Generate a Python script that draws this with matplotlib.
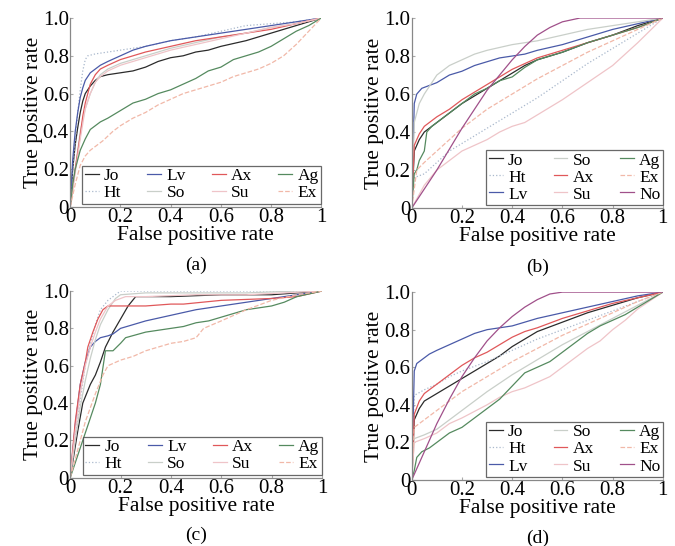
import numpy as np
import matplotlib
matplotlib.use('Agg')
import matplotlib.pyplot as plt

plt.rcParams['font.family'] = 'serif'
plt.rcParams['font.serif'] = ['Liberation Serif', 'DejaVu Serif']

# ---- styles per method ----
names = ['Jo', 'Ht', 'Lv', 'So', 'Ax', 'Su', 'Ag', 'Ex', 'No']
colors = {'Jo': '#2b2b2b', 'Ht': '#a9b8cc', 'Lv': '#4a5aa8', 'So': '#c9cfc9',
          'Ax': '#e0585a', 'Su': '#efc4c8', 'Ag': '#558a5f', 'Ex': '#f1b8a8',
          'No': '#a0508a'}
styles = {'Ht': ':', 'Ex': '--'}

# ---- panel (a) ----
a_Jo = ([0, .01, .02, .03, .04, .05, .06, .08, .1, .12, .15, .2, .25, .3, .35, .4, .45, .5, .55, .6, .7, .8, .9, 1],
        [0, .2, .33, .42, .5, .56, .6, .64, .67, .69, .7, .71, .72, .74, .77, .79, .8, .82, .83, .85, .88, .92, .96, 1])
a_Ht = ([0, .01, .02, .03, .04, .05, .06, .07, .1, .15, .2, .3, .4, .5, .6, .7, .8, .9, 1],
        [0, .2, .35, .5, .62, .72, .78, .8, .81, .82, .83, .85, .88, .9, .93, .96, .97, .98, 1])
a_Lv = ([0, .01, .02, .03, .04, .05, .06, .08, .1, .12, .15, .2, .25, .3, .4, .5, .6, .7, .8, .9, 1],
        [0, .25, .4, .5, .58, .63, .67, .71, .73, .75, .77, .8, .83, .85, .88, .9, .92, .94, .96, .98, 1])
a_So = ([0, .02, .04, .06, .08, .1, .12, .15, .2, .25, .3, .4, .5, .6, .7, .8, .9, 1],
        [0, .2, .4, .52, .6, .66, .7, .73, .76, .78, .8, .84, .87, .9, .92, .95, .97, 1])
a_Ax = ([0, .02, .04, .05, .06, .07, .08, .1, .12, .15, .2, .25, .3, .4, .5, .6, .7, .8, .9, 1],
        [0, .2, .38, .48, .55, .6, .65, .7, .73, .75, .78, .8, .82, .85, .88, .9, .92, .94, .97, 1])
a_Su = ([0, .02, .04, .06, .08, .1, .12, .15, .2, .3, .4, .5, .6, .7, .8, .9, 1],
        [0, .18, .36, .52, .6, .66, .69, .72, .75, .79, .83, .86, .89, .92, .95, .97, 1])
a_Ag = ([0, .01, .02, .03, .04, .06, .08, .1, .12, .15, .2, .25, .3, .35, .4, .45, .5, .55, .6, .65, .7, .75, .8, .85, .9, .95, 1],
        [0, .12, .2, .25, .3, .36, .41, .43, .45, .47, .51, .55, .57, .6, .62, .65, .68, .72, .74, .78, .8, .82, .85, .89, .93, .96, 1])
a_Ex = ([0, .02, .04, .06, .08, .1, .13, .17, .2, .25, .3, .35, .4, .45, .5, .55, .6, .65, .7, .75, .8, .85, .9, .95, 1],
        [0, .12, .22, .27, .3, .32, .35, .4, .43, .47, .5, .54, .57, .6, .62, .64, .66, .69, .71, .73, .76, .8, .86, .93, 1])

# ---- panel (b) ----
b_Jo = ([0, .01, .03, .05, .08, .1, .15, .2, .25, .3, .35, .4, .45, .5, .6, .7, .8, .9, 1],
        [0, .3, .36, .4, .43, .45, .5, .55, .59, .63, .67, .71, .75, .78, .82, .87, .91, .96, 1])
b_Ht = ([0, .01, .05, .1, .15, .2, .3, .4, .5, .6, .7, .8, .9, 1],
        [0, .16, .18, .24, .3, .34, .42, .5, .58, .67, .76, .84, .92, 1])
b_Lv = ([0, .01, .02, .04, .06, .1, .15, .2, .25, .3, .35, .4, .45, .5, .6, .7, .8, .9, 1],
        [0, .55, .6, .63, .64, .66, .7, .72, .75, .77, .79, .8, .81, .83, .86, .9, .94, .97, 1])
b_So = ([0, .01, .03, .05, .08, .1, .15, .2, .25, .3, .4, .5, .6, .7, .8, .9, 1],
        [0, .45, .55, .6, .66, .7, .75, .78, .81, .83, .86, .88, .91, .94, .96, .98, 1])
b_Ax = ([0, .01, .03, .05, .08, .1, .15, .2, .25, .3, .35, .4, .45, .5, .6, .7, .8, .9, 1],
        [0, .33, .39, .43, .46, .48, .52, .57, .61, .65, .69, .73, .76, .79, .83, .87, .91, .95, 1])
b_Su = ([0, .05, .1, .15, .2, .25, .3, .35, .4, .45, .5, .55, .6, .7, .8, .9, 1],
        [0, .12, .2, .25, .3, .33, .36, .4, .43, .45, .49, .53, .57, .66, .75, .87, 1])
b_Ag = ([0, .01, .02, .03, .05, .06, .08, .1, .15, .2, .25, .3, .35, .4, .45, .5, .6, .7, .8, .9, 1],
        [0, .18, .2, .25, .3, .4, .43, .45, .5, .55, .6, .63, .67, .69, .74, .78, .82, .87, .91, .95, 1])
b_Ex = ([0, .02, .05, .1, .15, .2, .3, .4, .5, .6, .7, .8, .9, 1],
        [0, .2, .24, .3, .36, .42, .52, .6, .68, .75, .82, .88, .94, 1])
b_No = ([0, .1, .2, .3, .35, .4, .45, .5, .55, .6, .67, 1],
        [0, .2, .42, .62, .7, .78, .85, .91, .95, .98, 1, 1])

# ---- panel (c) ----
c_Jo = ([0, .03, .05, .08, .1, .12, .14, .17, .2, .23, .26, .4, .6, .8, .9, 1],
        [0, .25, .4, .5, .55, .62, .7, .78, .85, .92, .97, .97, .98, .98, .99, 1])
c_Ht = ([0, .02, .04, .06, .08, .1, .12, .15, .18, .2, .3, .5, 1],
        [0, .22, .42, .6, .72, .82, .9, .95, .98, 1, 1, 1, 1])
c_Lv = ([0, .02, .04, .06, .08, .1, .12, .15, .17, .2, .25, .3, .4, .5, .6, .7, .8, .9, 1],
        [0, .28, .5, .62, .7, .73, .75, .76, .77, .8, .82, .84, .87, .9, .92, .94, .96, .98, 1])
c_So = ([0, .02, .04, .06, .08, .1, .12, .15, .18, .2, .3, .5, .7, .9, 1],
        [0, .2, .38, .52, .64, .74, .82, .9, .96, .98, .99, .99, .99, 1, 1])
c_Ax = ([0, .02, .04, .06, .07, .09, .11, .13, .15, .2, .3, .4, .45, .6, .8, .9, 1],
        [0, .3, .5, .62, .7, .78, .85, .9, .92, .92, .92, .93, .93, .95, .96, .97, 1])
c_Su = ([0, .02, .04, .06, .08, .1, .12, .15, .18, .22, .3, .5, .7, 1],
        [0, .25, .45, .6, .7, .78, .85, .92, .95, .97, .97, .98, .98, 1])
c_Ag = ([0, .03, .05, .08, .1, .12, .14, .17, .2, .22, .3, .35, .4, .45, .5, .55, .6, .65, .7, .8, .85, .9, 1],
        [0, .12, .2, .32, .4, .5, .68, .68, .72, .75, .78, .79, .8, .81, .83, .84, .86, .88, .9, .92, .94, .97, 1])
c_Ex = ([0, .03, .06, .1, .13, .15, .2, .25, .3, .35, .4, .45, .5, .53, .6, .7, .8, .9, 1],
        [0, .15, .3, .45, .55, .6, .63, .65, .68, .7, .72, .73, .75, .8, .84, .9, .95, .98, 1])

# ---- panel (d) ----
d_Jo = ([0, .01, .03, .05, .1, .15, .2, .25, .3, .35, .4, .45, .5, .6, .7, .8, .9, 1],
        [0, .32, .38, .42, .46, .5, .54, .58, .62, .66, .71, .75, .79, .84, .89, .93, .97, 1])
d_Ht = ([0, .01, .05, .1, .15, .2, .3, .4, .5, .6, .7, .8, .9, 1],
        [0, .45, .48, .51, .55, .58, .63, .69, .75, .8, .85, .9, .95, 1])
d_Lv = ([0, .01, .02, .04, .07, .1, .15, .2, .25, .3, .35, .4, .45, .5, .6, .7, .8, .9, 1],
        [0, .58, .62, .64, .67, .69, .72, .75, .78, .8, .81, .82, .84, .86, .89, .92, .95, .98, 1])
d_So = ([0, .01, .05, .1, .15, .2, .25, .3, .4, .5, .6, .7, .8, .9, 1],
        [0, .22, .24, .27, .32, .37, .42, .47, .56, .64, .72, .79, .86, .93, 1])
d_Ax = ([0, .01, .03, .05, .1, .15, .2, .25, .3, .35, .4, .45, .5, .6, .7, .8, .9, 1],
        [0, .35, .42, .46, .51, .56, .61, .65, .68, .72, .76, .79, .81, .86, .9, .94, .97, 1])
d_Su = ([0, .01, .05, .1, .15, .2, .3, .35, .4, .45, .5, .55, .6, .65, .7, .75, .8, .85, .9, 1],
        [0, .2, .22, .25, .3, .33, .4, .44, .47, .49, .52, .55, .6, .65, .7, .74, .8, .85, .91, 1])
d_Ag = ([0, .01, .02, .04, .07, .1, .15, .2, .25, .3, .35, .4, .45, .5, .55, .6, .65, .7, .75, .8, .85, .9, .95, 1],
        [0, .05, .12, .15, .17, .2, .25, .28, .33, .38, .43, .5, .57, .6, .63, .68, .73, .78, .82, .85, .88, .92, .96, 1])
d_Ex = ([0, .01, .05, .1, .15, .2, .3, .4, .5, .6, .7, .8, .9, 1],
        [0, .28, .32, .37, .42, .47, .55, .63, .7, .77, .83, .89, .95, 1])
d_No = ([0, .05, .1, .15, .2, .25, .3, .35, .4, .45, .5, .55, .6, 1],
        [0, .15, .3, .43, .55, .65, .74, .81, .87, .92, .96, .99, 1, 1])

panels = [
    ('(a)', {'Jo': a_Jo, 'Ht': a_Ht, 'Lv': a_Lv, 'So': a_So, 'Ax': a_Ax, 'Su': a_Su, 'Ag': a_Ag, 'Ex': a_Ex}),
    ('(b)', {'Jo': b_Jo, 'Ht': b_Ht, 'Lv': b_Lv, 'So': b_So, 'Ax': b_Ax, 'Su': b_Su, 'Ag': b_Ag, 'Ex': b_Ex, 'No': b_No}),
    ('(c)', {'Jo': c_Jo, 'Ht': c_Ht, 'Lv': c_Lv, 'So': c_So, 'Ax': c_Ax, 'Su': c_Su, 'Ag': c_Ag, 'Ex': c_Ex}),
    ('(d)', {'Jo': d_Jo, 'Ht': d_Ht, 'Lv': d_Lv, 'So': d_So, 'Ax': d_Ax, 'Su': d_Su, 'Ag': d_Ag, 'Ex': d_Ex, 'No': d_No}),
]

xticks = [0, 0.2, 0.4, 0.6, 0.8, 1]
xticklabels = ['0', '0.2', '0.4', '0.6', '0.8', '1']
yticks = [0, 0.2, 0.4, 0.6, 0.8, 1.0]
yticklabels = ['0', '0.2', '0.4', '0.6', '0.8', '1.0']

fig = plt.figure(figsize=(6.75, 5.46), dpi=100)
positions = [[0.104, 0.621, 0.372, 0.346],
             [0.610, 0.619, 0.372, 0.348],
             [0.104, 0.125, 0.373, 0.342],
             [0.610, 0.121, 0.372, 0.344]]

for (cap, data), pos in zip(panels, positions):
    ax = fig.add_axes(pos)
    for n in names:
        if n not in data:
            continue
        x, y = data[n]
        ax.plot(x, y, color=colors[n], ls=styles.get(n, '-'), lw=0.9, label=n)
    ax.set_xlim(0, 1)
    ax.set_ylim(0, 1)
    ax.set_xticks(xticks)
    ax.set_xticklabels(xticklabels)
    ax.set_yticks(yticks)
    ax.set_yticklabels(yticklabels)
    for s in ['top', 'right']:
        ax.spines[s].set_visible(False)
    for s in ['left', 'bottom']:
        ax.spines[s].set_color('#888888')
        ax.spines[s].set_linewidth(0.9)
    ax.tick_params(direction='in', length=2, color='#aaaaaa', labelsize=15, pad=1)
    ax.set_xlabel('False positive rate', fontsize=15.5, labelpad=-1)
    ax.set_ylabel('True positive rate', fontsize=15.5, labelpad=0)
    ncol = 3 if len(data) == 9 else 4
    leg = ax.legend(ncol=ncol, loc='lower right', bbox_to_anchor=(1.0, 0.015),
                    fontsize=12.5, frameon=True, fancybox=False, borderaxespad=0,
                    handlelength=0.8, handletextpad=0.3, columnspacing=1.5,
                    labelspacing=0.05, borderpad=0.15)
    leg.get_frame().set_edgecolor('#444444')
    leg.get_frame().set_linewidth(0.9)
    ax.text(0.5, -0.31, cap, transform=ax.transAxes, ha='center', va='center', fontsize=14)

fig.savefig('out.png', dpi=100)
